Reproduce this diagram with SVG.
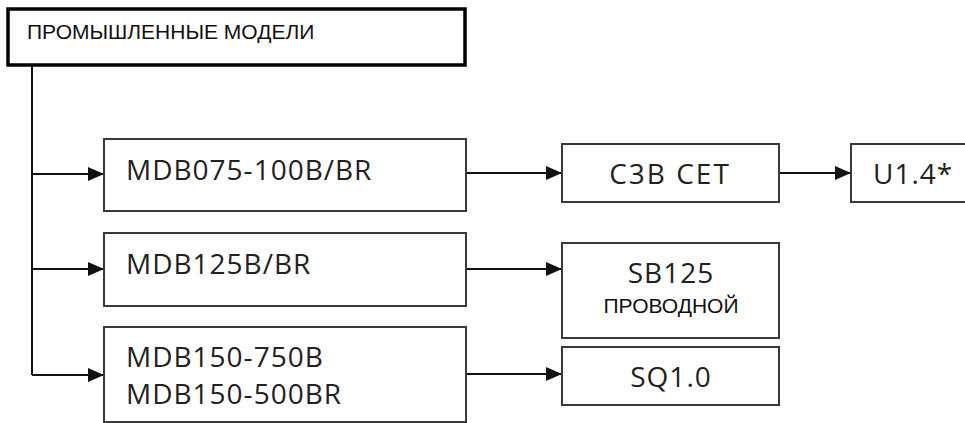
<svg xmlns="http://www.w3.org/2000/svg" width="965" height="423" viewBox="0 0 965 423">
<defs>
<marker id="arr" markerUnits="userSpaceOnUse" markerWidth="16" markerHeight="14" refX="16" refY="7" orient="auto">
<path d="M0,0 L16,7 L0,14 Z" fill="#111"/>
</marker>
<style>
.box{fill:#fff;stroke:#3a3a3a;stroke-width:2}
.top{fill:#fff;stroke:#000;stroke-width:3.5}
.m{font-family:"Open Sans","DejaVu Sans",sans-serif;font-size:28px;fill:#222;letter-spacing:1px}
.c{text-anchor:middle}
.w{letter-spacing:2px}
.a{font-family:"Liberation Sans",Arial,sans-serif;fill:#111}
.ln{fill:none;stroke:#111;stroke-width:2}
</style>
</defs>
<rect width="965" height="423" fill="#fff"/>
<g id="connectors">
<path class="ln" d="M32,66 V375"/>
<path class="ln" d="M32,174 H104" marker-end="url(#arr)"/>
<path class="ln" d="M32,269 H104" marker-end="url(#arr)"/>
<path class="ln" d="M32,375 H104" marker-end="url(#arr)"/>
<path class="ln" d="M466,173 H562" marker-end="url(#arr)"/>
<path class="ln" d="M466,269 H562" marker-end="url(#arr)"/>
<path class="ln" d="M466,374 H562" marker-end="url(#arr)"/>
<path class="ln" d="M779,173 H851" marker-end="url(#arr)"/>
</g>
<g id="industrial">
<rect class="top" x="8" y="9" width="457" height="56"/>
<text class="a" x="27" y="39" font-size="21">ПРОМЫШЛЕННЫЕ МОДЕЛИ</text>
</g>
<g id="mdb075">
<rect class="box" x="104" y="139" width="362" height="72"/>
<text class="m" x="126" y="180">MDB075-100B/BR</text>
</g>
<g id="mdb125">
<rect class="box" x="104" y="233" width="362" height="73"/>
<text class="m" x="126" y="274">MDB125B/BR</text>
</g>
<g id="mdb150">
<rect class="box" x="104" y="327" width="362" height="95"/>
<text class="m" x="126" y="367">MDB150-750B</text>
<text class="m" x="126" y="404">MDB150-500BR</text>
</g>
<g id="c3bcet">
<rect class="box" x="562" y="144" width="217" height="58"/>
<text class="m c w" x="670" y="184">C3B CET</text>
</g>
<g id="u14">
<rect class="box" x="851" y="144" width="120" height="58"/>
<text class="m" x="873" y="184">U1.4*</text>
</g>
<g id="sb125">
<rect class="box" x="562" y="243" width="217" height="95"/>
<text class="m c" x="671" y="283">SB125</text>
<text class="a c" x="671" y="313" font-size="21">ПРОВОДНОЙ</text>
</g>
<g id="sq10">
<rect class="box" x="562" y="347" width="217" height="58"/>
<text class="m c" x="671" y="387">SQ1.0</text>
</g>
</svg>
